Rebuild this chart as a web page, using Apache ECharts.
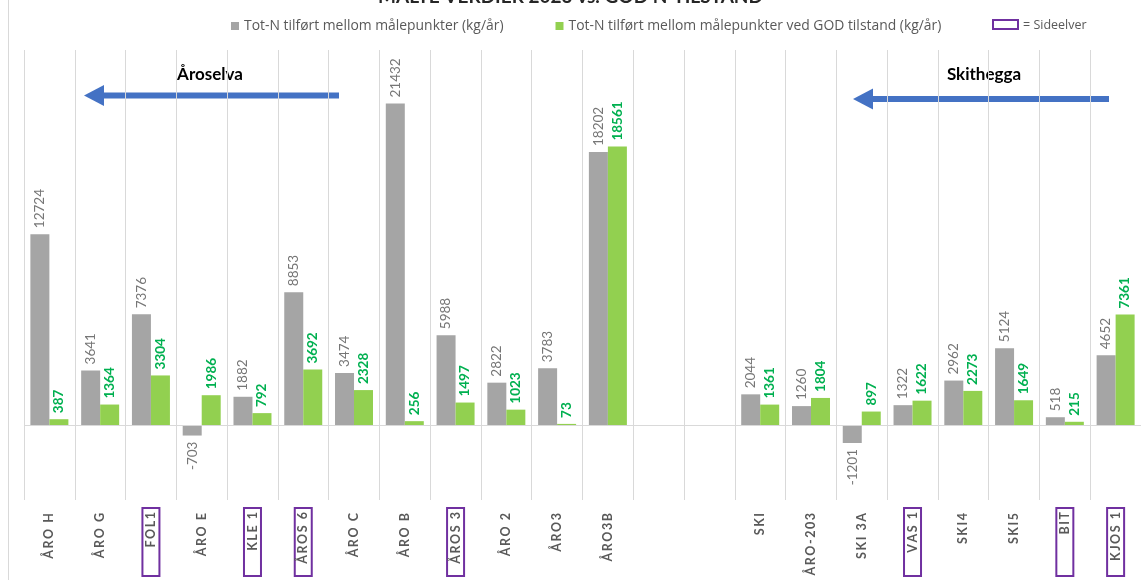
<!DOCTYPE html>
<html>
<head>
<meta charset="utf-8">
<script src="https://cdn.jsdelivr.net/npm/echarts@6/dist/echarts.min.js"></script>
<style>
html,body{margin:0;padding:0;background:#fff;}
#chart{width:1141px;height:580px;}
</style>
</head>
<body>
<div id="chart"></div>
<script>
const categories = ['ÅRO H','ÅRO G','FOL1','ÅRO E','KLE 1','ÅROS 6','ÅRO C','ÅRO B','ÅROS 3','ÅRO 2','ÅRO3','ÅRO3B',' ','  ','SKI','ÅRO-203','SKI 3A','VAS 1','SKI4','SKI5','BIT','KJOS 1'];
const measured = [12724, 3641, 7376, -703, 1882, 8853, 3474, 21432, 5988, 2822, 3783, 18202, null, null, 2044, 1260, -1201, 1322, 2962, 5124, 518, 4652];
const goodState = [387, 1364, 3304, 1986, 792, 3692, 2328, 256, 1497, 1023, 73, 18561, null, null, 1361, 1804, 897, 1622, 2273, 1649, 215, 7361];
const sideelver = ['FOL1','KLE 1','ÅROS 6','ÅROS 3','VAS 1','BIT','KJOS 1'];
const seriesNames = ['Tot-N tilført mellom målepunkter (kg/år)','Tot-N tilført mellom målepunkter ved GOD tilstand (kg/år)'];

const FONT = 'Lato, "Open Sans", sans-serif';
const LFONT = '"Open Sans", Lato, sans-serif';

function toItems(arr){
  return arr.map(v => (v !== null && v < 0) ? {value: v, label: {position: 'bottom', align: 'right'}} : v);
}
function spaced(s){ return s.split('').join('\u2009'); }

const chart = echarts.init(document.getElementById('chart'), null, {renderer: 'canvas'});
const option = {
  backgroundColor: '#fff',
  animation: false,
  title: {
    text: 'MÅLTE VERDIER 2023 vs. GOD N-TILSTAND',
    left: 'center',
    top: -13,
    padding: 0,
    textStyle: {fontFamily: FONT, fontSize: 19, fontWeight: 'bold', color: '#262626'}
  },
  legend: {
    data: seriesNames,
    left: 226,
    top: 14,
    itemWidth: 8,
    itemHeight: 8,
    itemGap: 52,
    itemStyle: {borderWidth: 0},
    icon: 'rect',
    textStyle: {fontFamily: LFONT, fontSize: 13.9, color: '#595959'}
  },
  grid: {left: 24, right: -7, top: 50, bottom: 76, containLabel: false},
  xAxis: {
    type: 'category',
    data: categories,
    axisLine: {show: false, onZero: false},
    axisTick: {show: false},
    splitLine: {show: true, interval: 0, lineStyle: {color: '#d9d9d9', width: 1}},
    axisLabel: {
      interval: 0,
      rotate: 90,
      margin: 8,
      formatter: function (v) {
        const t = v.trim();
        if (!t) return '';
        return sideelver.includes(t) ? '{box|' + spaced(t) + '}' : '{n|' + spaced(t) + '}';
      },
      rich: {
        n: {fontFamily: FONT, fontSize: 12.5, fontWeight: 'bold', color: '#595959', padding: [0, 5, 0, 0]},
        box: {fontFamily: FONT, fontSize: 12.5, fontWeight: 'bold', color: '#595959',
              borderColor: '#7030a0', borderWidth: 2, padding: [2, 4, 2, 4], width: 60, align: 'right'}
      }
    }
  },
  yAxis: {
    type: 'value',
    min: -5000,
    max: 25000,
    show: false,
    splitLine: {show: false}
  },
  series: [
    {
      name: seriesNames[0],
      type: 'bar',
      data: toItems(measured),
      barWidth: 19,
      barGap: '0%',
      itemStyle: {color: '#a5a5a5'},
      label: {
        show: true, position: 'top', rotate: 90, align: 'left', verticalAlign: 'middle', distance: 6,
        fontFamily: FONT, fontSize: 13.5, color: '#767676'
      },
      markLine: {
        silent: true, symbol: 'none', label: {show: false},
        lineStyle: {color: '#d9d9d9', type: 'solid', width: 1},
        data: [{yAxis: 0}]
      },
      z: 3
    },
    {
      name: seriesNames[1],
      type: 'bar',
      data: toItems(goodState),
      barWidth: 19,
      barGap: '0%',
      itemStyle: {color: '#92d050'},
      label: {
        show: true, position: 'top', rotate: 90, align: 'left', verticalAlign: 'middle', distance: 6,
        fontFamily: FONT, fontSize: 13.5, fontWeight: 'bold', color: '#00b050'
      },
      z: 3
    }
  ],
  graphic: [
    {type: 'line', shape: {x1: 8.5, y1: 0, x2: 8.5, y2: 580}, style: {stroke: '#d9d9d9', lineWidth: 1}},
    {type: 'rect', shape: {x: 993, y: 20, width: 25, height: 9}, style: {fill: '#fff', stroke: '#7030a0', lineWidth: 2}},
    {type: 'text', x: 1023, y: 25, style: {text: '= Sideelver', font: '12.5px ' + LFONT, fill: '#595959', verticalAlign: 'middle'}},
    {type: 'text', x: 210, y: 75, style: {text: 'Åroselva', font: 'bold 17px ' + FONT, fill: '#000', align: 'center', verticalAlign: 'middle'}},
    {type: 'rect', shape: {x: 102, y: 92.5, width: 237, height: 6}, style: {fill: '#4472c4'}},
    {type: 'polygon', shape: {points: [[84, 95.5], [104, 85], [104, 106]]}, style: {fill: '#4472c4'}},
    {type: 'text', x: 984, y: 75, style: {text: 'Skithegga', font: 'bold 17px ' + FONT, fill: '#000', align: 'center', verticalAlign: 'middle'}},
    {type: 'rect', shape: {x: 871, y: 96, width: 238, height: 6}, style: {fill: '#4472c4'}},
    {type: 'polygon', shape: {points: [[853, 99], [873, 88.5], [873, 109.5]]}, style: {fill: '#4472c4'}}
  ]
};
chart.setOption(option);
</script>
</body>
</html>
